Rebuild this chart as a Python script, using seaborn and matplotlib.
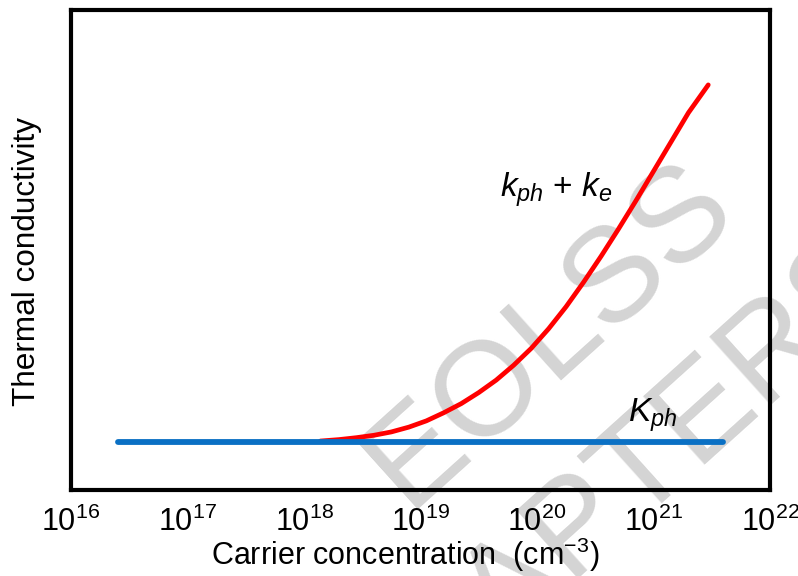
import numpy as np
import pandas as pd
import matplotlib
matplotlib.use("Agg")
import matplotlib.pyplot as plt
import seaborn as sns

# ---- data ----
log_n_total = [18.14, 18.30, 18.45, 18.60, 18.75, 18.90, 19.05, 19.20, 19.35, 19.50,
               19.65, 19.80, 19.95, 20.10, 20.25, 20.40, 20.55, 20.70, 20.85, 21.00,
               21.15, 21.30, 21.47]
k_total = [1.02, 1.05, 1.09, 1.14, 1.21, 1.31, 1.44, 1.61, 1.80, 2.03,
           2.29, 2.60, 2.95, 3.36, 3.82, 4.33, 4.87, 5.44, 6.03, 6.64,
           7.25, 7.86, 8.44]
log_n_ph = [16.40, 21.60]
k_ph = [1.0, 1.0]
xtick_exp = [16, 17, 18, 19, 20, 21, 22]

df_tot = pd.DataFrame({"n": [10 ** v for v in log_n_total], "k": k_total})
df_ph = pd.DataFrame({"n": [10 ** v for v in log_n_ph], "k": k_ph})

sns.set_theme(style="white")
plt.rcParams["font.family"] = ["Liberation Sans", "DejaVu Sans"]
plt.rcParams["mathtext.fontset"] = "custom"
plt.rcParams["mathtext.rm"] = "Liberation Sans"
plt.rcParams["mathtext.it"] = "Liberation Sans:italic"
plt.rcParams["mathtext.bf"] = "Liberation Sans:bold"

fig = plt.figure(figsize=(7.98, 5.76), dpi=100)
ax = fig.add_axes([71 / 798, 1 - 490 / 576, (770 - 71) / 798, (490 - 10) / 576])
ax.set_facecolor("none")
fig.patch.set_facecolor("white")

# watermark (behind everything)
wm_color = "#d4d4d4"
fig.text(550 / 798, 1 - 335 / 576, "EOLSS", fontsize=96, color=wm_color,
         rotation=42, rotation_mode="anchor", ha="center", va="center", zorder=-10)
fig.text(878 / 798, 1 - 262 / 576, "SAMPLE CHAPTERS", fontsize=96, color=wm_color,
         rotation=42, rotation_mode="anchor", ha="right", va="center", zorder=-10)

sns.lineplot(data=df_tot, x="n", y="k", ax=ax, color="#ff0000", linewidth=3.4,
             sort=False, zorder=2)
sns.lineplot(data=df_ph, x="n", y="k", ax=ax, color="#0a70c4", linewidth=4.2,
             sort=False, zorder=3)

ax.set_xscale("log")
ax.set_xlim(1e16, 1e22)
ax.set_ylim(0, 10)
ax.set_xticks([10.0 ** e for e in xtick_exp])
ax.xaxis.set_minor_locator(matplotlib.ticker.NullLocator())
ax.set_yticks([1.0])
ax.set_yticklabels([])
ax.tick_params(axis="x", length=0, pad=12, labelsize=22, colors="black")
ax.tick_params(axis="y", length=3, width=1.5, direction="out", colors="black")

for s in ax.spines.values():
    s.set_visible(True)
    s.set_color("black")
    s.set_linewidth(3)

ax.set_xlabel("Carrier concentration  (cm$^{\\mathdefault{-3}}$)", fontsize=22, color="black")
ax.xaxis.set_label_coords(0.478, -0.095, transform=ax.transAxes)
ax.xaxis.label.set_va("top")
ax.set_ylabel("Thermal conductivity", fontsize=22.7, color="black")
ax.yaxis.set_label_coords(-0.041, 0.475, transform=ax.transAxes)

ax.text(10 ** 19.68, 6.25, r"$\mathit{k}_{\mathit{ph}}$ + $\mathit{k}_{\mathit{e}}$",
        fontsize=24, ha="left", va="center", color="black")
ax.text(10 ** 20.99, 1.55, r"$\mathit{K}_{\mathit{ph}}$",
        fontsize=24, ha="center", va="center", color="black")

fig.savefig("out.png", dpi=100, facecolor="white")
